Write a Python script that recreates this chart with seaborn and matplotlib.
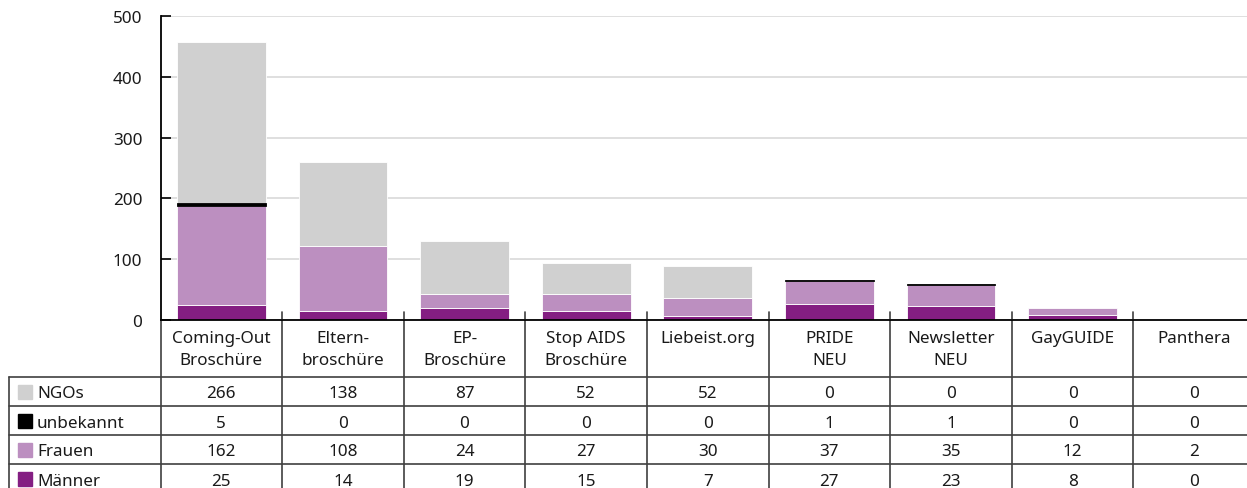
import matplotlib
matplotlib.use("Agg")
import matplotlib.pyplot as plt
import seaborn as sns
import numpy as np

# data
categories = ["Coming-Out\nBroschüre", "Eltern-\nbroschüre", "EP-\nBroschüre",
              "Stop AIDS\nBroschüre", "Liebeist.org", "PRIDE\nNEU",
              "Newsletter\nNEU", "GayGUIDE", "Panthera"]
ngos = [266, 138, 87, 52, 52, 0, 0, 0, 0]
unbekannt = [5, 0, 0, 0, 0, 1, 1, 0, 0]
frauen = [162, 108, 24, 27, 30, 37, 35, 12, 2]
maenner = [25, 14, 19, 15, 7, 27, 23, 8, 0]
y_ticks = [0, 100, 200, 300, 400, 500]

colors = {"NGOs": "#d0d0d0", "unbekannt": "#000000",
          "Frauen": "#bc8fc0", "Männer": "#841e82"}

sns.set_theme(style="white")
plt.rcParams["font.family"] = ["Noto Sans", "DejaVu Sans"]
FS = 12.3

W, H = 1247, 489
fig = plt.figure(figsize=(W / 100, H / 100), dpi=100)

# plot area in pixel terms
x0, x1 = 160.5, 1255.0
y_top, y_bot = 17.0, 321.0
colw = (x1 - x0) / len(categories)
ax = fig.add_axes([x0 / W, 1 - y_bot / H, (x1 - x0) / W, (y_bot - y_top) / H])

idx = list(range(len(categories)))
m = np.array(maenner, dtype=float)
f = np.array(frauen, dtype=float)
u = np.array(unbekannt, dtype=float)
n = np.array(ngos, dtype=float)

sns.barplot(x=idx, y=m, color=colors["Männer"], width=0.73, ax=ax,
            edgecolor="white", linewidth=0.6, saturation=1, zorder=3)
sns.barplot(x=idx, y=f, bottom=m, color=colors["Frauen"], width=0.73, ax=ax,
            edgecolor="white", linewidth=0.6, saturation=1, zorder=3)
sns.barplot(x=idx, y=n, bottom=m + f + u, color=colors["NGOs"], width=0.73, ax=ax,
            edgecolor="white", linewidth=0.6, saturation=1, zorder=3)
sns.barplot(x=idx, y=u, bottom=m + f, color=colors["unbekannt"], width=0.73,
            ax=ax, edgecolor="black", linewidth=0.6, saturation=1, zorder=4)
# empty segments should leave no edge line
for cont in ax.containers:
    for bar in cont:
        if bar.get_height() == 0:
            bar.set_visible(False)

ax.set_xlim(-0.5, len(categories) - 0.5)
ax.set_ylim(0, 500)
ax.set_yticks(y_ticks)
ax.set_xticks([])
ax.set_xlabel("")
ax.set_ylabel("")
ax.grid(axis="y", color="#d9d9d9", linewidth=1.2, zorder=0)
for s in ["top", "right"]:
    ax.spines[s].set_visible(False)
for s in ["left", "bottom"]:
    ax.spines[s].set_color("black")
    ax.spines[s].set_linewidth(1.3)
ax.spines["bottom"].set_zorder(5)
ax.tick_params(axis="y", direction="in", length=7, width=1.2, color="black",
               labelsize=FS, pad=13, left=True, labelcolor="#1a1a1a")
ax.patch.set_visible(False)

# overlay in pixel coordinates for the data table
ov = fig.add_axes([0, 0, 1, 1], zorder=-1)
ov.set_xlim(0, W)
ov.set_ylim(H, 0)
ov.axis("off")

lc = "#404040"
lw = 1.2
row_y = [378, 407, 436, 465, 494]
for y in row_y:
    ov.plot([9, W + 20], [y, y], color=lc, lw=lw, clip_on=False)
ov.plot([9, 9], [row_y[0], H + 5], color=lc, lw=lw)
ov.plot([x0, x0], [y_bot, H + 5], color=lc, lw=lw)
for i in range(1, len(categories) + 1):
    xv = x0 + colw * i
    ov.plot([xv, xv], [313, H + 5], color=lc, lw=lw)

# column headers, one text per line
for i, lab in enumerate(categories):
    xc = x0 + colw * (i + 0.5)
    for k, part in enumerate(lab.split("\n")):
        ov.text(xc, 337 + 22 * k, part, ha="center", va="center_baseline",
                fontsize=FS, color="#1a1a1a")

rows = [("NGOs", ngos), ("unbekannt", unbekannt), ("Frauen", frauen), ("Männer", maenner)]
for r, (name, vals) in enumerate(rows):
    yc = (row_y[r] + row_y[r + 1]) / 2
    ov.add_patch(plt.Rectangle((18, yc - 7), 14, 14, color=colors[name]))
    ov.text(37, yc, name, ha="left", va="center_baseline", fontsize=FS,
            color="#1a1a1a")
    for i, v in enumerate(vals):
        xc = x0 + colw * (i + 0.5)
        ov.text(xc, yc, str(v), ha="center", va="center_baseline", fontsize=FS,
                color="#1a1a1a")

fig.savefig("out.png", dpi=100)
